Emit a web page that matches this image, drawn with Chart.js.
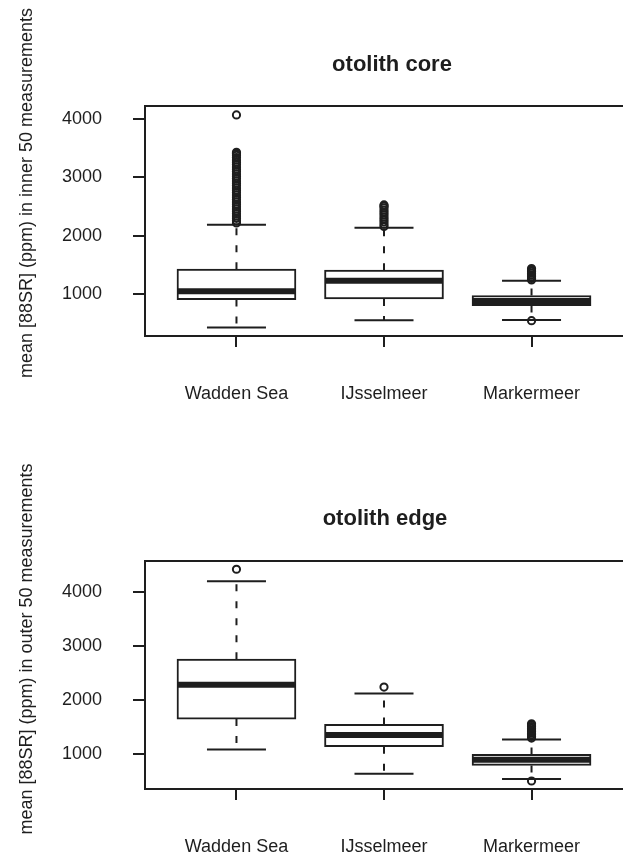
<!DOCTYPE html>
<html>
<head>
<meta charset="utf-8">
<title>Otolith Sr boxplots</title>
<script src="https://cdn.jsdelivr.net/npm/chart.js@4.4.0/dist/chart.umd.min.js"></script>
<style>
    html, body { margin: 0; padding: 0; background: #fff; }
    #wrap { position: relative; width: 623px; height: 857px; overflow: hidden; }
    canvas { position: absolute; left: 0; }
</style>
</head>
<body>
<div id="wrap">
    <canvas id="coreChart" width="629" height="428" style="top:0"></canvas>
    <canvas id="edgeChart" width="629" height="429" style="top:428px"></canvas>
</div>
<script>
// sites and where they sit on the x axis
const sites = ['Wadden Sea', 'IJsselmeer', 'Markermeer'];
const sitePos = [1, 2, 3];
const yTicks = [1000, 2000, 3000, 4000];

// otolith core: inner 50 measurements
const coreLow = [430, 555, 560];
const coreQ1 = [909, 920, 806];
const coreMedian = [1051, 1229, 885];
const coreQ3 = [1429, 1412, 978];
const coreHigh = [2189, 2137, 1229];
const coreOutWadden = [2220, 2260, 2300, 2340, 2380, 2420, 2460, 2500, 2540, 2580, 2620, 2660,
    2700, 2740, 2780, 2820, 2860, 2900, 2940, 2980, 3020, 3060, 3100, 3140, 3180, 3220,
    3260, 3300, 3340, 3380, 3410, 3430, 4070];
const coreOutIJssel = [2160, 2200, 2240, 2280, 2320, 2360, 2400, 2440, 2480, 2510, 2530];
const coreOutMarker = [548, 1245, 1270, 1300, 1330, 1360, 1390, 1415, 1440];

// otolith edge: outer 50 measurements
const edgeLow = [1080, 630, 532];
const edgeQ1 = [1641, 1129, 784];
const edgeMedian = [2275, 1346, 889];
const edgeQ3 = [2750, 1542, 987];
const edgeHigh = [4192, 2115, 1265];
const edgeOutWadden = [4414];
const edgeOutIJssel = [2233];
const edgeOutMarker = [495, 1290, 1320, 1350, 1380, 1410, 1440, 1470, 1500, 1530, 1555];

const INK = '#1e1e1e';
const FONT = '"Liberation Sans", Arial, Helvetica, sans-serif';

// draws whiskers, caps, medians, the plot frame and the panel texts
function makeBoxPlugin(p) {
    return {
        id: 'boxParts',
        beforeDatasetsDraw(chart) {
            const { ctx, scales: { x, y } } = chart;
            ctx.save();
            ctx.strokeStyle = INK;
            ctx.lineWidth = 2;
            sitePos.forEach((pos, i) => {
                const cx = x.getPixelForValue(pos);
                ctx.setLineDash([7, 10]);
                ctx.beginPath();
                ctx.moveTo(cx, y.getPixelForValue(p.q3[i]));
                ctx.lineTo(cx, y.getPixelForValue(p.high[i]));
                ctx.moveTo(cx, y.getPixelForValue(p.q1[i]));
                ctx.lineTo(cx, y.getPixelForValue(p.low[i]));
                ctx.stroke();
                ctx.setLineDash([]);
                const l = x.getPixelForValue(pos - 0.2);
                const r = x.getPixelForValue(pos + 0.2);
                ctx.beginPath();
                [p.high[i], p.low[i]].forEach(v => {
                    const py = y.getPixelForValue(v);
                    ctx.moveTo(l, py);
                    ctx.lineTo(r, py);
                });
                ctx.stroke();
            });
            ctx.restore();
        },
        afterDatasetDraw(chart, args) {
            if (args.meta.type !== 'bar') return;
            const { ctx, scales: { x, y } } = chart;
            ctx.save();
            ctx.strokeStyle = INK;
            ctx.lineWidth = 6;
            sitePos.forEach((pos, i) => {
                const py = y.getPixelForValue(p.median[i]);
                ctx.beginPath();
                ctx.moveTo(x.getPixelForValue(pos - 0.4), py);
                ctx.lineTo(x.getPixelForValue(pos + 0.4), py);
                ctx.stroke();
            });
            ctx.restore();
        },
        afterDraw(chart) {
            const { ctx, chartArea: a } = chart;
            ctx.save();
            ctx.strokeStyle = INK;
            ctx.lineWidth = 2;
            ctx.beginPath();
            ctx.moveTo(a.right + 10, a.top);
            ctx.lineTo(a.left, a.top);
            ctx.lineTo(a.left, a.bottom);
            ctx.lineTo(a.right + 10, a.bottom);
            ctx.stroke();

            ctx.fillStyle = INK;
            ctx.textAlign = 'center';
            ctx.textBaseline = 'alphabetic';
            ctx.font = 'bold 22px ' + FONT;
            ctx.fillText(p.title, p.titleX, p.titleY);

            ctx.font = '18px ' + FONT;
            ctx.translate(32, p.ylabY);
            ctx.rotate(-Math.PI / 2);
            ctx.fillText(p.ylab, 0, 0);
            ctx.restore();
        }
    };
}

function makePanel(canvasId, p) {
    const boxes = sitePos.map((pos, i) => ({ x: pos, y: [p.q1[i], p.q3[i]] }));
    const outliers = [];
    p.outliers.forEach((list, i) => list.forEach(v => outliers.push({ x: sitePos[i], y: v })));

    return new Chart(document.getElementById(canvasId), {
        type: 'bar',
        data: {
            datasets: [
                {
                    type: 'bar',
                    data: boxes,
                    order: 2,
                    backgroundColor: '#ffffff',
                    borderColor: INK,
                    borderWidth: 2,
                    borderSkipped: false,
                    barThickness: 119
                },
                {
                    type: 'scatter',
                    data: outliers,
                    order: 1,
                    pointStyle: 'circle',
                    pointRadius: 3.6,
                    borderWidth: 2,
                    borderColor: INK,
                    backgroundColor: 'rgba(0,0,0,0)'
                }
            ]
        },
        options: {
            responsive: false,
            animation: false,
            events: [],
            layout: { padding: { top: p.top, left: 0, right: 0, bottom: 0 } },
            plugins: {
                legend: { display: false },
                tooltip: { enabled: false },
                title: { display: false }
            },
            scales: {
                x: {
                    type: 'linear',
                    min: 0.38,
                    max: 3.62,
                    offset: false,
                    afterBuildTicks: s => { s.ticks = sitePos.map(v => ({ value: v })); },
                    afterFit: s => { s.height = p.xAxisHeight; },
                    ticks: {
                        callback: (v, i) => sites[i],
                        autoSkip: false,
                        maxRotation: 0,
                        padding: 36,
                        color: INK,
                        font: { family: FONT, size: 18 }
                    },
                    grid: { drawOnChartArea: false, offset: false, tickLength: 11, lineWidth: 2, color: INK },
                    border: { display: false }
                },
                y: {
                    min: p.yMin,
                    max: p.yMax,
                    afterBuildTicks: s => { s.ticks = yTicks.map(v => ({ value: v })); },
                    afterFit: s => { s.width = 145; },
                    ticks: {
                        callback: v => String(v),
                        padding: 31,
                        color: INK,
                        font: { family: FONT, size: 18 }
                    },
                    grid: { drawOnChartArea: false, tickLength: 12, lineWidth: 2, color: INK },
                    border: { display: false }
                }
            }
        },
        plugins: [makeBoxPlugin(p)]
    });
}

makePanel('coreChart', {
    title: 'otolith core',
    titleX: 392, titleY: 71,
    ylab: 'mean [88SR] (ppm) in inner 50 measurements',
    ylabY: 193,
    top: 106, xAxisHeight: 92,
    yMin: 285, yMax: 4223,
    low: coreLow, q1: coreQ1, median: coreMedian, q3: coreQ3, high: coreHigh,
    outliers: [coreOutWadden, coreOutIJssel, coreOutMarker]
});

makePanel('edgeChart', {
    title: 'otolith edge',
    titleX: 385, titleY: 97,
    ylab: 'mean [88SR] (ppm) in outer 50 measurements',
    ylabY: 221,
    top: 133, xAxisHeight: 68,
    yMin: 347, yMax: 4567,
    low: edgeLow, q1: edgeQ1, median: edgeMedian, q3: edgeQ3, high: edgeHigh,
    outliers: [edgeOutWadden, edgeOutIJssel, edgeOutMarker]
});
</script>
</body>
</html>
